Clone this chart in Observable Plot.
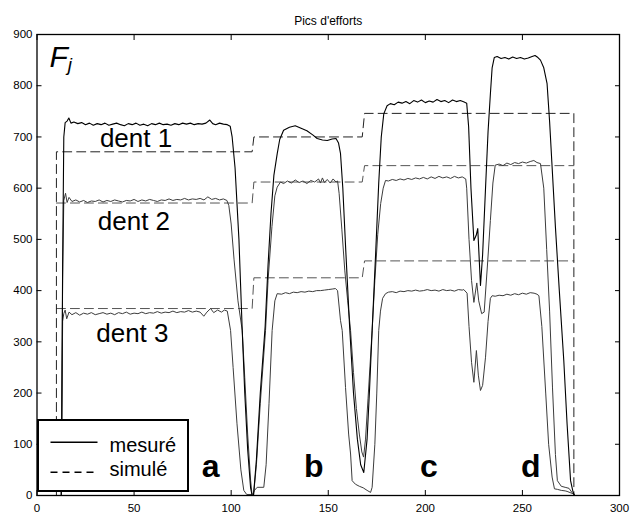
<!DOCTYPE html>
<html><head><meta charset="utf-8">
<script src="https://cdn.jsdelivr.net/npm/d3@7"></script>
<script src="https://cdn.jsdelivr.net/npm/@observablehq/plot@0.6"></script>
<style>
body{margin:0;background:#fff;}
#wrap{position:relative;width:630px;height:513px;font-family:'Liberation Sans',Arial,sans-serif;}
</style></head><body><div id="wrap"></div>
<script>
// ---- data: measured (mesuré) ----
const m1X = [9,12.5,13.2,13.8,14.5,15.5,16.4,17.5,19,21,23,25,27,29,31,33,35,37,39,41,43,45,47,49,51,53,55,57,59,61,63,65,67,69,71,73,75,77,79,81,83,85,87,89,90.5,92,94,96,98,99.5,100.5,102,104,105.7,107,108.5,110,110.8,111.5,113,115,117.5,119,120.5,122,123.7,125,127,130,133,136,139,142,144.3,147,149.5,152,154,155.3,156.3,157.5,159,161,163,165,166.7,168.3,170,171.3,172.6,174.5,176,177.3,178.6,180.3,182,184,186,188,190,192,194,196,198,200,202,204,206,208,210,212,214,216,218,220,221.3,222.3,223.5,225,226.2,227,228.4,229.5,231,232.3,233.5,234.4,235.5,237,239,241,243,245,247,249,251,253,255,256.5,258,259.3,261,262.7,264,265.3,267,269,271.3,273,274.8,276,276.8];
const m1Y = [0,0,450,700,728,731,737,727,729,726,728,724,727,723,726,724,727,723,725,727,724,722,726,724,727,723,725,722,726,724,727,724,725,723,726,724,727,725,727,724,726,725,727,733,726,724,727,725,724,721,700,640,500,322,200,90,15,0,0,70,200,330,450,550,625,667,695,713,719,722,717,712,704,697,694,693,696,697,688,668,600,480,330,200,110,60,45,110,210,322,480,610,700,745,761,765,763,768,766,769,765,771,768,772,767,770,768,773,769,771,767,772,769,771,768,766,720,600,498,508,521,410,470,600,710,784,835,855,857,853,855,852,856,853,855,852,854,857,859,855,850,835,804,730,641,524,400,264,140,29,8,0];

const m2X = [9,12.5,13.2,13.8,14.7,15.5,16.5,18,20,22,24,26,28,30,32,34,36,38,40,42,44,46,48,50,52,54,56,58,60,62,64,66,68,70,72,74,76,78,80,82,84,86,88,90,92,94,96,97.8,98.8,100,101.5,103.5,105.7,107,108.5,110,110.8,111.5,113,115,117.7,119,121,122.5,123.7,125.4,127,129,131,133,135,137,139,141,143,145,146,147,148,149.5,151,152.5,154,154.8,155.6,157,158.5,160,161.5,163,164.5,166,167.3,168.2,169.2,170.5,172.6,174,175.5,177,178.3,179.5,181,183,185,187,189,191,193,195,197,199,201,203,205,207,209,211,213,215,217,219,220.8,221.3,222.5,223.8,225,226.5,227.5,229,230.3,232,233.5,234.8,236,238,240,242,244,246,248,250,252,254,255.9,257.5,259.3,261,262.5,264,265.5,267,268,270,272,274,275.5,276.8];
const m2Y = [0,0,420,576,590,572,582,574,577,573,576,572,575,574,577,573,576,574,577,575,573,576,575,578,574,577,575,578,576,574,577,576,579,576,578,577,580,577,579,578,580,577,583,578,580,577,579,576,566,530,460,380,322,230,120,30,0,0,60,180,322,420,525,585,602,612,609,614,610,616,611,614,609,615,612,618,610,620,611,617,610,618,612,614,590,520,440,380,322,240,170,120,85,75,110,190,322,420,510,570,600,615,614,617,615,618,616,619,617,620,618,621,618,622,619,623,620,622,619,623,620,622,618,600,500,420,377,415,380,355,358,450,537,610,645,647,644,649,646,650,648,651,649,652,654,650,648,600,480,360,210,80,29,18,16,14,6,0];

const m3X = [9,12.5,13.2,13.8,14.5,15.3,16.5,18,20,22,24,26,28,30,32,34,36,38,40,42,44,46,48,50,52,54,56,58,60,62,64,66,68,70,72,74,76,78,80,82,84,85.9,87.5,89.4,91,93,95,96.5,98,99.7,101,103,105,106.5,108,111,112,113.4,116.8,118,119.5,121.1,122.5,123.7,126,128,130,132,134,136,138,140,142,144,146,148,150,152,153.7,154.8,156.3,157.2,158.9,160.5,161.5,162.3,164,166,168,170,171.8,172.6,174,175,176,176.9,178,179.5,181,183,185,187,189,191,193,195,197,199,201,203,205,207,209,211,213,215,217,219,219.8,221.5,222.5,223.8,225,226.3,227.3,228.4,229.5,231,232.3,233.5,234.4,236,238,240,242,244,246,248,250,252,254,256,257.5,258.5,260,262,263.5,265.3,266.5,268,270,272,273,275,276.5,277];
const m3Y = [0,0,340,355,362,345,358,353,357,352,356,354,357,353,355,357,354,356,353,357,355,358,354,356,355,358,355,357,356,359,356,358,357,360,357,359,358,361,358,360,358,350,358,365,357,362,358,362,360,322,250,140,50,10,2,2,10,16,16,60,180,322,380,394,393,396,394,397,396,398,397,399,398,400,400,401,402,403,404,400,342,322,211,120,81,29,22,18,15,10,6,16,100,200,322,360,385,394,397,398,396,399,398,400,399,401,399,400,402,400,401,399,402,400,401,399,402,401,402,395,330,260,221,283,235,205,215,270,340,385,390,389,391,390,393,391,394,392,395,393,396,395,393,390,330,200,100,36,13,12,10,9,8,5,3,0];

// ---- data: simulated (simulé) step levels ----
const s1X = [10,10,110.8,111.7,167.5,168.7,276.5,276.5];
const s1Y = [0,671,671,700,700,746,746,0];
const s2X = [10,110.8,111.7,167.5,168.7,276.5];
const s2Y = [571,571,612,612,644,644];
const s3X = [10,110.8,111.7,167.5,168.7,276.5];
const s3Y = [365,365,425,425,458,458];

// ---- ticks & labels ----
const xTicks = [0,50,100,150,200,250,300];
const yTicks = [0,100,200,300,400,500,600,700,800,900];
const title = "Pics d'efforts";
const dentText = ["dent 1","dent 2","dent 3"];
const dentX = [32.4,31.3,30.5];
const dentY = [680,518,299];
const caseText = ["a","b","c","d"];
const caseX = [89.4,142.6,201.8,254.3];
const caseY = [37,37,37,37];
const legendText = ["mesuré","simulé"];

const rows = (xs, ys) => xs.map((x, i) => ({x, y: ys[i]}));
const font = "'Liberation Sans', Arial, sans-serif";

const chart = Plot.plot({
  width: 630, height: 513,
  marginLeft: 36.5, marginRight: 11, marginTop: 34, marginBottom: 18,
  style: {fontFamily: font, fontSize: "11.5px", background: "white", color: "black"},
  x: {domain: [0, 300]},
  y: {domain: [0, 900]},
  marks: [
    Plot.line(rows(s3X, s3Y), {x: "x", y: "y", stroke: "#555", strokeWidth: 1, strokeDasharray: "9,5"}),
    Plot.line(rows(s2X, s2Y), {x: "x", y: "y", stroke: "#555", strokeWidth: 1, strokeDasharray: "9,5"}),
    Plot.line(rows(s1X, s1Y), {x: "x", y: "y", stroke: "#222", strokeWidth: 1, strokeDasharray: "9,5"}),
    Plot.line(rows(m3X, m3Y), {x: "x", y: "y", stroke: "#3c3c3c", strokeWidth: 1}),
    Plot.line(rows(m2X, m2Y), {x: "x", y: "y", stroke: "#3c3c3c", strokeWidth: 1}),
    Plot.line(rows(m1X, m1Y), {x: "x", y: "y", stroke: "#000", strokeWidth: 1.1}),
    Plot.text(dentText, {x: dentX, y: dentY, text: d => d, fontSize: 26, textAnchor: "start", lineAnchor: "bottom", fill: "black"}),
    Plot.text(caseText, {x: caseX, y: caseY, text: d => d, fontSize: 32, fontWeight: "bold", textAnchor: "middle", lineAnchor: "bottom", fill: "black"}),
    Plot.text(["F"], {x: [6.4], y: [836], text: d => d, fontSize: 30, fontStyle: "italic", textAnchor: "start", lineAnchor: "bottom", fill: "black"}),
    Plot.text(["j"], {x: [15.8], y: [828], text: d => d, fontSize: 19, fontStyle: "italic", textAnchor: "start", lineAnchor: "bottom", fill: "black"}),
    Plot.text([title], {frameAnchor: "top", dy: -10, text: d => d, fontSize: 12, lineAnchor: "bottom", fill: "black"}),
    Plot.frame({stroke: "black", strokeWidth: 1.3}),
    Plot.axisX({anchor: "bottom", ticks: xTicks, tickSize: -5, tickPadding: 13, tickFormat: d => String(d), label: null}),
    Plot.axisX({anchor: "top", ticks: xTicks, tickSize: -5, tickFormat: () => "", label: null}),
    Plot.axisY({anchor: "left", ticks: yTicks, tickSize: -5, tickPadding: 9.5, tickFormat: d => String(d), label: null}),
    Plot.axisY({anchor: "right", ticks: yTicks, tickSize: -5, tickFormat: () => "", label: null})
  ]
});

const wrap = document.getElementById("wrap");
wrap.appendChild(chart);

// legend box
const ns = "http://www.w3.org/2000/svg";
const lg = document.createElementNS(ns, "svg");
lg.setAttribute("width", "152");
lg.setAttribute("height", "74");
lg.style.position = "absolute";
lg.style.left = "36.5px";
lg.style.top = "418.5px";
lg.innerHTML = `
<rect x="1" y="1" width="150" height="71" fill="white" stroke="black" stroke-width="2"/>
<line x1="13.5" x2="60.5" y1="23.2" y2="23.2" stroke="black" stroke-width="1.6"/>
<line x1="13.5" x2="60.5" y1="53.2" y2="53.2" stroke="black" stroke-width="1.6" stroke-dasharray="7,5"/>
<text x="72.5" y="32.5" font-size="20" font-family="${font}">${legendText[0]}</text>
<text x="72.5" y="56.5" font-size="20" font-family="${font}">${legendText[1]}</text>`;
wrap.appendChild(lg);
</script>
</body></html>
